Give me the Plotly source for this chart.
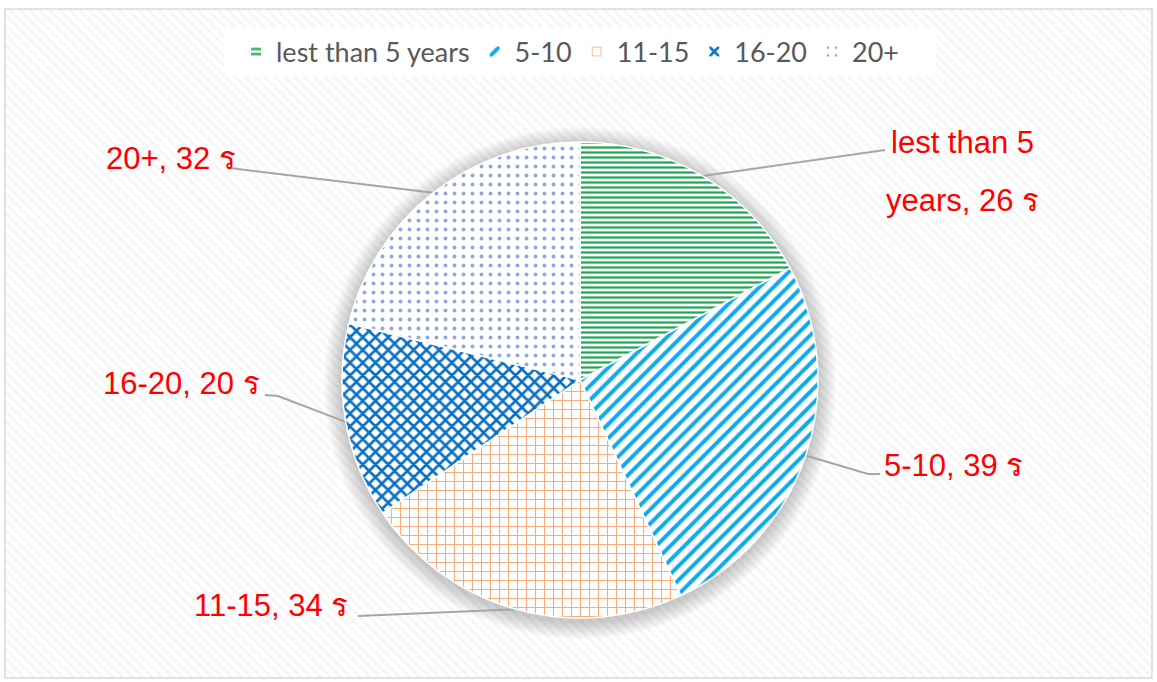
import numpy as np
import plotly.graph_objects as go

# ---- data ----
categories = ["lest than 5 years", "5-10", "11-15", "16-20", "20+"]
values = [26, 39, 34, 20, 32]
label_texts = ["lest than 5<br>years, 26 ร", "5-10, 39 ร", "11-15, 34 ร", "16-20, 20 ร", "20+, 32 ร"]

colors = ["#1FA752", "#10AAEA", "#F4AD7D", "#0A6FC2", "#8FA8DD"]
patterns = ["-", "/", "+", "x", "."]
pat_size = [5, 10, 9, 9, 9]
pat_solid = [0.45, 0.4, 0.22, 0.5, 0.15]

W, H = 1157, 682
cx, cy, R = 580, 380, 238

fig = go.Figure()

# background with diagonal texture (pixel-coordinate overlay axis)
fig.add_trace(go.Scatter(
    x=[5, 1152, 1152, 5, 5], y=[9, 9, 678, 678, 9], mode="lines",
    line=dict(color="#D9D9D9", width=1.5), fill="toself", fillcolor="white",
    fillpattern=dict(shape="\\", fgcolor="#EEEEEE", bgcolor="white", size=7, solidity=0.4),
    hoverinfo="skip", showlegend=False, xaxis="x", yaxis="y"))

# soft shadow around pie
t = np.linspace(0, 2 * np.pi, 240)
for r in range(256, 238, -2):
    fig.add_trace(go.Scatter(
        x=cx + r * np.cos(t), y=cy + 3 + r * np.sin(t), mode="lines",
        line=dict(width=0), fill="toself", fillcolor="rgba(0,0,0,0.022)",
        hoverinfo="skip", showlegend=False, xaxis="x", yaxis="y"))

# legend white box
fig.add_trace(go.Scatter(
    x=[225, 935, 935, 225, 225], y=[28, 28, 76, 76, 28], mode="lines",
    line=dict(width=0), fill="toself", fillcolor="white",
    hoverinfo="skip", showlegend=False, xaxis="x", yaxis="y"))

# leader lines & labels
total = sum(values)
cum = np.cumsum([0] + values)
mid_angles = [(cum[i] + values[i] / 2) / total * 2 * np.pi for i in range(len(values))]
label_pos = [(962, 172, "center"), (882, 465, "left"), (350, 605, "right"), (262, 383, "right"), (238, 158, "right")]
elbows = [(885, 150), (868, 474), (358, 616), (278, 396), (230, 168)]
for i, a in enumerate(mid_angles):
    ex, ey = cx + R * np.sin(a), cy - R * np.cos(a)
    bx, by = elbows[i]
    xs, ys = [ex, bx], [ey, by]
    if i == 1:
        xs.append(880); ys.append(474)
    if i == 3:
        xs.append(265); ys.append(395)
    fig.add_trace(go.Scatter(x=xs, y=ys, mode="lines", line=dict(color="#A6A6A6", width=2),
                             hoverinfo="skip", showlegend=False, xaxis="x", yaxis="y"))

LFONT = dict(color="#FF0000", size=31, family="Liberation Sans, Arial, sans-serif")
for i, (lx, ly, anc) in enumerate(label_pos):
    if i == 0:
        parts = label_texts[0].split("<br>")
        fig.add_annotation(x=lx, y=142, xref="x", yref="y", text=parts[0], showarrow=False,
                           xanchor="center", yanchor="middle", font=LFONT)
        fig.add_annotation(x=lx, y=200, xref="x", yref="y", text=parts[1], showarrow=False,
                           xanchor="center", yanchor="middle", font=LFONT)
    else:
        fig.add_annotation(x=lx, y=ly, xref="x", yref="y", text=label_texts[i], showarrow=False,
                           xanchor=anc, yanchor="middle", font=LFONT)

fig.add_trace(go.Pie(
    labels=categories, values=values, sort=False, direction="clockwise", rotation=0,
    textinfo="none", hoverinfo="label+value",
    marker=dict(colors=["white"] * 5, line=dict(color="white", width=1.5),
                pattern=dict(shape=patterns, fgcolor=colors, bgcolor="white", fgopacity=1,
                             size=pat_size, solidity=pat_solid, fillmode="replace")),
    domain=dict(x=[(cx - R) / W, (cx + R) / W], y=[1 - (cy + R) / H, 1 - (cy - R) / H]),
))

fig.update_layout(
    width=W, height=H, margin=dict(l=0, r=0, t=0, b=0),
    paper_bgcolor="white", plot_bgcolor="white",
    font=dict(family="Liberation Sans, Arial, sans-serif"),
    xaxis=dict(range=[0, W], domain=[0, 1], visible=False, fixedrange=True),
    yaxis=dict(range=[H, 0], domain=[0, 1], visible=False, fixedrange=True),
    showlegend=True,
    legend=dict(orientation="h", x=236 / W, xanchor="left", y=1 - 52 / H, yanchor="middle",
                font=dict(family="Lato, sans-serif", size=27, color="#595959"),
                bgcolor="rgba(0,0,0,0)", itemsizing="constant", traceorder="normal"),
)

fig.write_html("out.html", config={"displayModeBar": False},
               post_script="document.body.style.margin='0';")
